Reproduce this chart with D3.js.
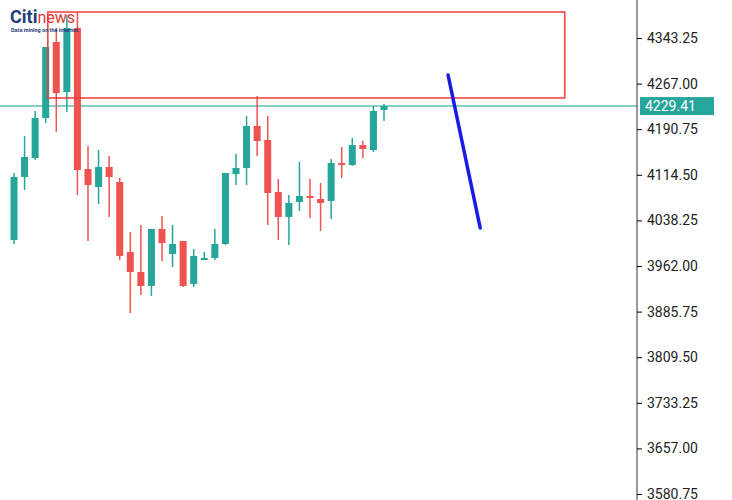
<!DOCTYPE html>
<html><head><meta charset="utf-8">
<script src="https://cdn.jsdelivr.net/npm/d3@7"></script>
<style>body{margin:0;background:#fff}svg{display:block}</style>
</head><body><div id="chart"></div>
<script>
// candles as [open, high, low, close]
const opens  = [4005.5,4110.8,4142.6,4209.5,4336.6,4253,4360,4124.2,4094.1,4127.6,4102.5,3985.5,3952,3928.6,4023.9,3982.1,4003.9,3932,3972.1,3975.4,3998.8,4115.8,4125.9,4196.1,4172.7,4085.7,4044,4069.1,4079.1,4074.1,4070.7,4134.3,4130.9,4164.3,4156,4222.9];
const highs  = [4117.5,4179.4,4221.2,4328.2,4360,4381.7,4386.7,4162.7,4156,4146,4109.2,4018.9,4030.6,4023.9,4045.6,4030.6,4003.9,3990.5,3985.5,4023.9,4117.5,4149.3,4212.8,4246.3,4212.8,4107.5,4080.7,4135.9,4107.5,4100.8,4141,4161,4176.1,4171,4229.5,4232.9];
const lows   = [3998.8,4089.1,4139.3,4201.1,4186.1,4219.5,4080.7,4003.9,4065.7,4044,3972.1,3883.4,3913.6,3911.9,3970.4,3960.4,3926.9,3926.9,3972.1,3972.1,3997.2,4097.5,4097.5,4146,4030.6,4005.5,3997.2,4054,4042.3,4020.6,4040.6,4109.2,4129.2,4142.6,4152.6,4204.5];
const closes = [4110.8,4144.3,4209.5,4328.2,4251.3,4360,4122.5,4097.5,4127.6,4110.8,3978.8,3952,3928.6,4023.9,4000.5,3998.8,3928.6,3978.8,3975.4,3998.8,4117.5,4125.9,4196.1,4171,4084.1,4044,4067.4,4079.1,4075.7,4067.4,4134.3,4132.6,4164.3,4157.7,4221.2,4229.5];
const tickValues = [4343.25,4267.00,4190.75,4114.50,4038.25,3962.00,3885.75,3809.50,3733.25,3657.00,3580.75];
const lastPrice = 4229.41;
const zoneBar = [4.2, 53.1];          // red box, bar index range
const zonePrice = [4386.7, 4243];     // red box, price range
const arrowBar = [42.06, 45.1];       // blue projection line
const arrowPrice = [4281.4, 4025.6];

const W = 732, H = 500, plotRight = 637;
const svg = d3.select("#chart").append("svg").attr("width", W).attr("height", H);

const x = d3.scaleLinear().domain([1, 36]).range([14, 384]);
const y = d3.scaleLinear().domain([3580.75, 4343.25]).range([494, 38]);
const up = "#26a69a", down = "#ef5350";

// current price line
svg.append("line").attr("x1", 0).attr("x2", plotRight)
  .attr("y1", y(lastPrice)).attr("y2", y(lastPrice))
  .attr("stroke", "#5cbfb5").attr("stroke-width", 1.5);

// candles
const bw = 7;
const c = svg.append("g").selectAll("g").data(opens).join("g");
c.append("line")
  .attr("x1", (d, i) => x(i + 1)).attr("x2", (d, i) => x(i + 1))
  .attr("y1", (d, i) => y(highs[i])).attr("y2", (d, i) => y(lows[i]))
  .attr("stroke", (d, i) => closes[i] >= d ? up : down).attr("stroke-width", 1.5);
c.append("rect")
  .attr("x", (d, i) => x(i + 1) - bw / 2).attr("width", bw)
  .attr("y", (d, i) => y(Math.max(d, closes[i])))
  .attr("height", (d, i) => Math.max(2, Math.abs(y(d) - y(closes[i]))))
  .attr("fill", (d, i) => closes[i] >= d ? up : down);

// red zone
svg.append("rect")
  .attr("x", x(zoneBar[0])).attr("width", x(zoneBar[1]) - x(zoneBar[0]))
  .attr("y", y(zonePrice[0])).attr("height", y(zonePrice[1]) - y(zonePrice[0]))
  .attr("fill", "none").attr("stroke", "#ef3b3b").attr("stroke-width", 1.5);

// blue line
svg.append("line")
  .attr("x1", x(arrowBar[0])).attr("y1", y(arrowPrice[0]))
  .attr("x2", x(arrowBar[1])).attr("y2", y(arrowPrice[1]))
  .attr("stroke", "#1a1ae6").attr("stroke-width", 3.5).attr("stroke-linecap", "round");

// price axis
const ax = svg.append("g").attr("transform", `translate(${plotRight},0)`)
  .call(d3.axisRight(y).tickValues(tickValues).tickFormat(d3.format(".2f")).tickSize(5).tickPadding(5));
ax.select(".domain").attr("d", `M0,0V${H}`).attr("stroke", "#333");
ax.selectAll("text").attr("font-family", "Roboto, sans-serif").attr("font-size", 14).attr("fill", "#222");

// last price label
svg.append("rect").attr("x", plotRight + 3).attr("y", y(lastPrice) - 9)
  .attr("width", 74).attr("height", 18).attr("fill", "#26a69a");
svg.append("text").attr("x", plotRight + 8).attr("y", y(lastPrice) + 5)
  .attr("font-family", "Roboto, sans-serif").attr("font-size", 14).attr("fill", "#fff")
  .text(lastPrice.toFixed(2));

// logo
const logo = svg.append("text").attr("x", 10).attr("y", 23)
  .attr("font-family", "Roboto, sans-serif").attr("font-weight", 700).attr("font-size", 16);
logo.append("tspan").attr("fill", "#1f3d7a").attr("font-size", 18).text("Citi");
logo.append("tspan").attr("fill", "#e53935").attr("font-weight", 400).text("news");
svg.append("text").attr("x", 11).attr("y", 32)
  .attr("font-family", "Roboto, sans-serif").attr("font-weight", 700).attr("font-size", 5.5)
  .attr("fill", "#1f3d7a").text("Data mining on the internet");
</script></body></html>
